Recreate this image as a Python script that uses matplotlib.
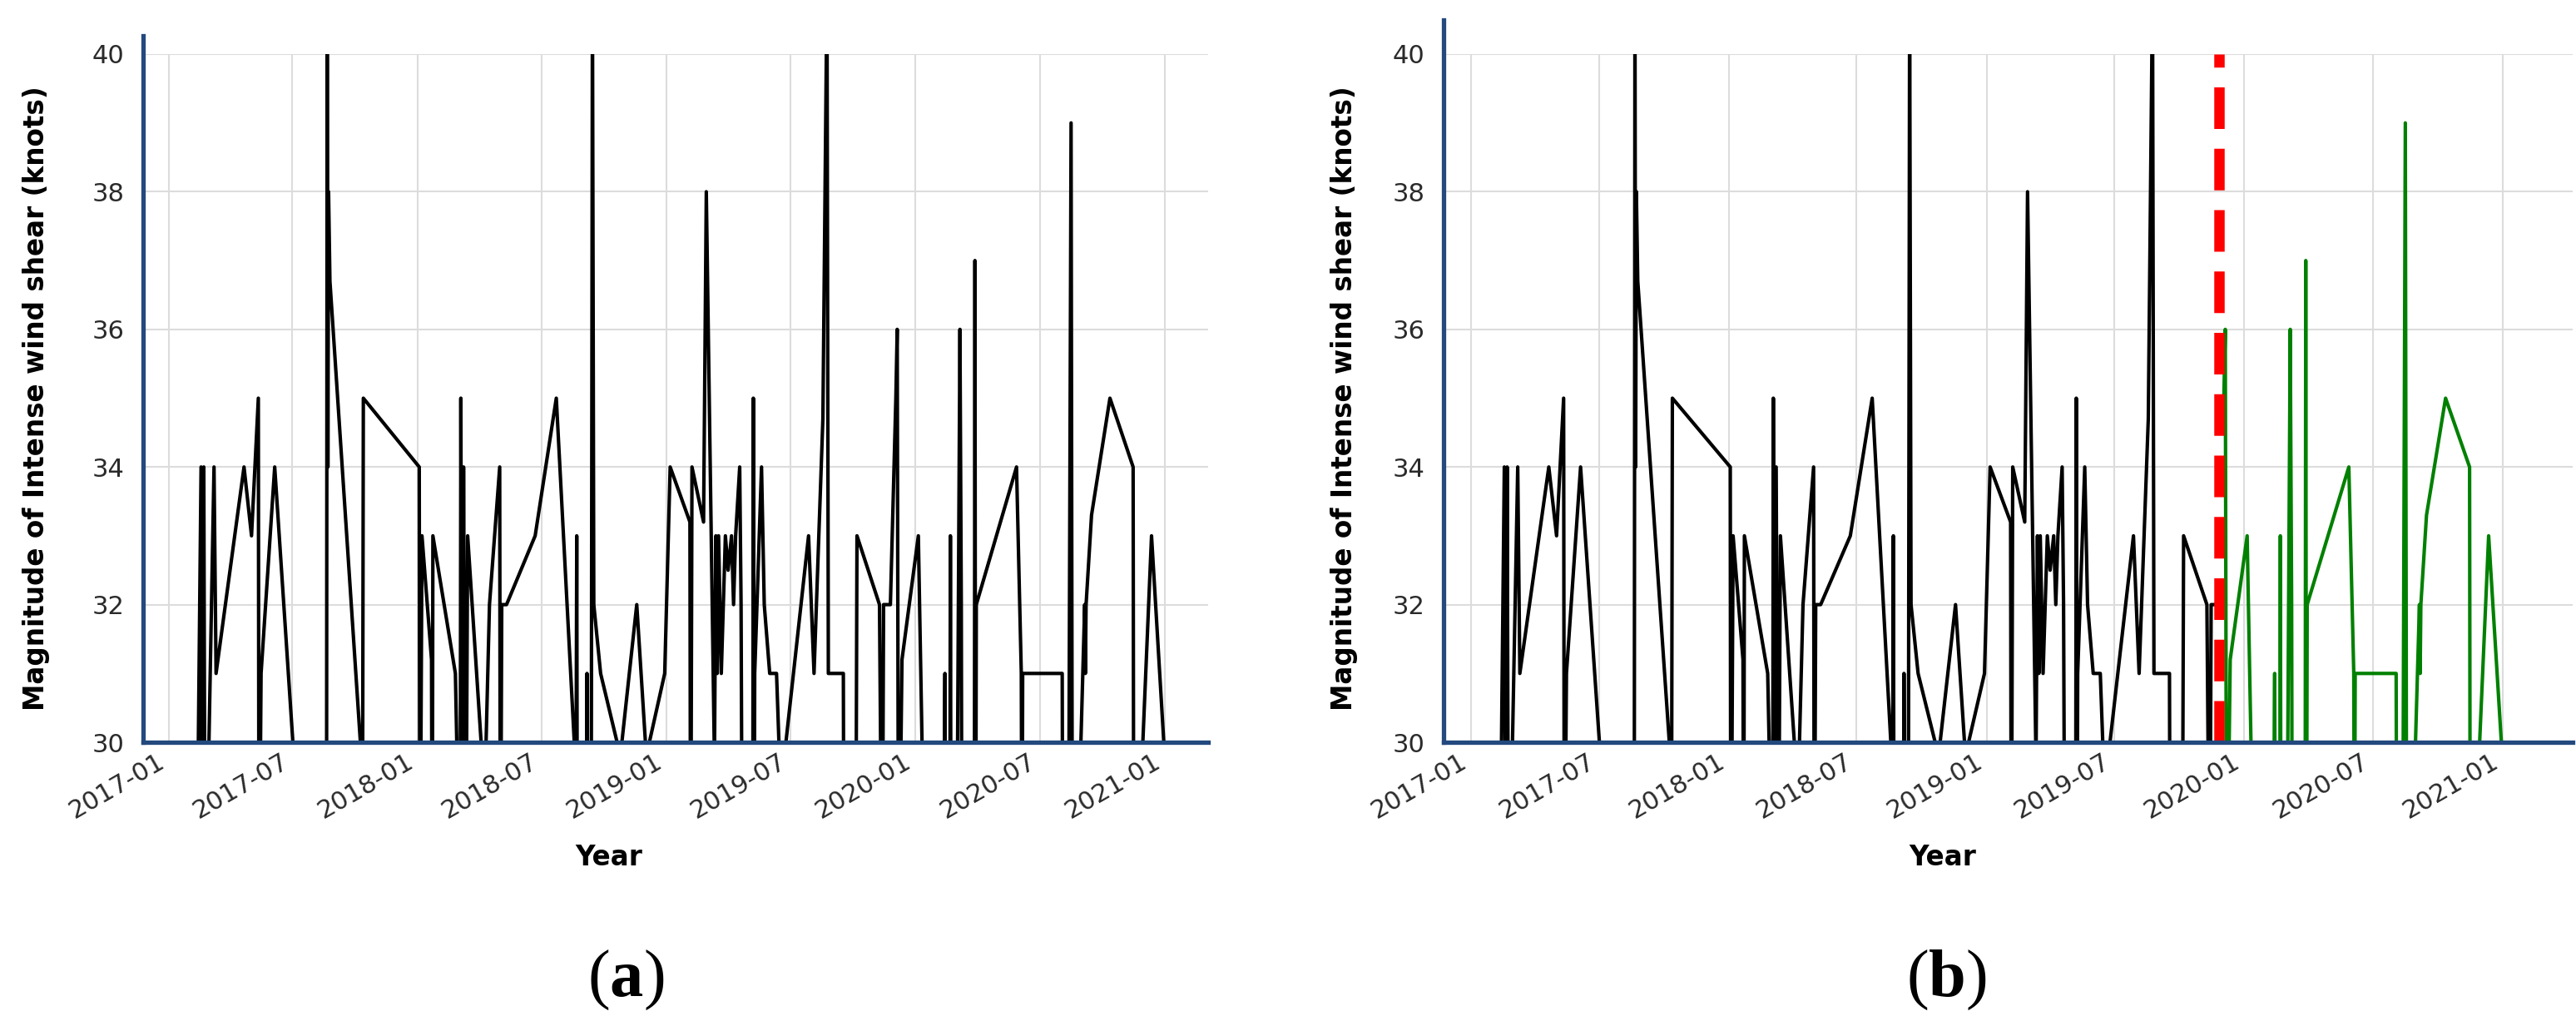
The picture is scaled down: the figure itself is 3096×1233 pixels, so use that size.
import matplotlib
matplotlib.use('Agg')
import matplotlib.pyplot as plt
import matplotlib.dates as mdates
import numpy as np
import pandas as pd

# days after 2017-01-01 and magnitude of intense wind shear (knots)
# values below 30 fall under the visible window
day_offsets = [40, 47, 49, 51, 53, 66, 69, 110, 121, 131, 132, 135, 155, 195, 231, 232, 233, 234, 236,
               284, 285, 367, 368, 371, 385, 386, 387, 420, 425, 427, 428, 430, 432, 435, 438, 463, 470,
               485, 486, 488, 495, 537, 568, 597, 598, 599, 612, 613, 615, 619, 621, 623, 633, 662, 686,
               700, 727, 735, 764, 765, 767, 784, 788, 800, 802, 804, 806, 810, 816, 820, 825, 828, 831,
               837, 839, 841, 856, 857, 858, 859, 869, 873, 881, 891, 897, 938, 946, 959, 965, 967, 989,
               990, 1007, 1009, 1042, 1046, 1048, 1058,
               1066, 1068, 1070, 1075, 1099, 1108, 1136, 1138, 1139, 1145, 1146, 1147, 1156, 1160, 1162,
               1163, 1181, 1182, 1183, 1184, 1243, 1250, 1251, 1252, 1310, 1311, 1319, 1323, 1325, 1336,
               1343, 1344, 1345, 1353, 1380, 1414, 1415, 1424, 1441, 1465, 1485]
shear_knots = [27, 34, 27, 34, 27, 34, 31, 34, 33, 35, 27, 31, 34, 28, 28, 41, 34, 38, 36.7,
               29.5, 35, 34, 27, 33, 31.2, 27, 33, 31, 28.5, 28, 35, 27, 34, 27, 33, 29.2, 32,
               34, 27, 32, 32, 33, 35, 29.5, 33, 27, 27, 31, 27, 27, 41, 32, 31, 29.8, 32,
               29.8, 31, 34, 33.2, 27, 34, 33.2, 38, 29.7, 33, 31, 33, 31, 33, 32.5, 33, 32, 33,
               34, 32, 27, 27, 35, 27, 31, 34, 32, 31, 31, 29.3, 33, 31, 34.7, 41, 31, 31,
               27, 27, 33, 32, 27, 32, 32,
               35, 36, 27, 31.2, 33, 28, 28, 31, 27, 27, 33, 27, 29, 36, 32,
               27, 27, 37, 27, 32, 34, 31, 27, 31, 31, 27, 27, 39, 27, 29.5,
               32, 31, 32, 33.3, 35, 34, 27, 29, 33, 29, 27]
split_date = '2019-11-26'
panel_names = ['a', 'b']

start = pd.Timestamp('2017-01-01')
dates = start + pd.to_timedelta(day_offsets, unit='D')
values = np.array(shear_knots)
split = pd.Timestamp(split_date)
train = dates < split

plt.rcParams['mathtext.fontset'] = 'custom'
plt.rcParams['mathtext.rm'] = 'Liberation Serif'
plt.rcParams['mathtext.bf'] = 'Liberation Serif:bold'

W, H = 3096, 1233
fig = plt.figure(figsize=(W / 100, H / 100), dpi=100)
bottom = 1 - 892 / H
height = 827 / H
ax_a = fig.add_axes([172 / W, bottom, 1280 / W, height])
ax_b = fig.add_axes([1735 / W, bottom, 1357 / W, height])

spine_col = '#23497e'

def style(ax, xlim, label_x, ylabel_x, top):
    ax.set_ylim(30, 40)
    ax.set_xlim(pd.Timestamp(xlim[0]), pd.Timestamp(xlim[1]))
    ax.set_yticks(np.arange(30, 41, 2))
    ax.xaxis.set_major_locator(mdates.MonthLocator(bymonth=[1, 7]))
    ax.xaxis.set_major_formatter(mdates.DateFormatter('%Y-%m'))
    ax.grid(True, color='#dcdcdc', lw=1.5)
    ax.set_axisbelow(True)
    for s in ['top', 'right']:
        ax.spines[s].set_visible(False)
    for s in ['left', 'bottom']:
        ax.spines[s].set_color(spine_col)
        ax.spines[s].set_linewidth(3.8)
    ax.spines['left'].set_bounds(30, top)
    ax.tick_params(axis='y', length=0, pad=16, labelsize=22, labelcolor='#2a2a2a')
    ax.tick_params(axis='x', length=0, pad=6, labelsize=22, labelcolor='#2a2a2a')
    for lab in ax.get_xticklabels():
        lab.set_rotation(30)
        lab.set_ha('right')
    ax.set_xlabel('Year', fontsize=23.5, fontweight='bold')
    ax.xaxis.set_label_coords(label_x, -0.148)
    ax.set_ylabel('Magnitude of Intense wind shear (knots)', fontsize=23.5,
                  fontweight='bold', va='center')
    ax.yaxis.set_label_coords(ylabel_x, 0.5)

# panel a: whole series
ax_a.plot(dates, values, color='black', lw=3)
style(ax_a, ('2016-11-24', '2021-03-05'), 0.437, -0.1, 40.27)

# panel b: training part, split marker and test part
ax_b.plot(dates[train], values[train], color='black', lw=3)
ax_b.plot(dates[~train], values[~train], color='green', lw=3)
ax_b.axvline(split, color='red', lw=9, linestyle=(0, (4, 1.9)))
style(ax_b, ('2016-11-23', '2021-04-10'), 0.442, -0.088, 40.5)

for name, xc in zip(panel_names, [752, 2339]):
    fig.text(xc / W, 1 - 1178 / H, r'($\mathbf{' + name + '}$)', family='Liberation Serif',
             fontsize=58, ha='center', va='center')

fig.savefig('out.png', dpi=100)
